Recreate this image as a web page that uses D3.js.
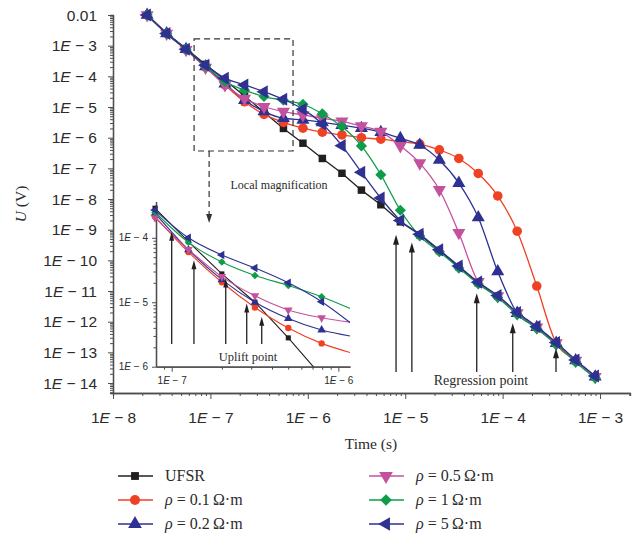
<!DOCTYPE html>
<html>
<head>
<meta charset="utf-8">
<script src="https://cdn.jsdelivr.net/npm/d3@7"></script>
<style>
body { margin: 0; background: #fff; }
svg { font-family: "Liberation Serif", "DejaVu Serif", serif; }
</style>
</head>
<body>
<script>
// sample times (s)
var times = [2.24e-8, 3.55e-8, 5.62e-8, 8.91e-8, 1.41e-7, 2.24e-7, 3.55e-7, 5.62e-7, 8.91e-7, 1.41e-6, 2.24e-6, 3.55e-6,
             5.62e-6, 8.91e-6, 1.41e-5, 2.24e-5, 3.55e-5, 5.62e-5, 8.91e-5, 1.41e-4, 2.24e-4, 3.55e-4, 5.62e-4, 8.91e-4];

// U (V) per series
var ufsr  = [1.0e-2, 2.6e-3, 8.1e-4, 2.45e-4, 7.6e-5, 2.3e-5, 6.8e-6, 2.0e-6, 6.6e-7, 2.1e-7, 6.9e-8, 1.95e-8,
             6.5e-9, 1.8e-9, 6.8e-10, 2.1e-10, 6.2e-11, 1.85e-11, 6.9e-12, 1.9e-12, 6.6e-13, 2.0e-13, 5.4e-14, 1.6e-14];
var rho01 = [1.0e-2, 2.5e-3, 7.4e-4, 2.0e-4, 5.25e-5, 1.48e-5, 5.75e-6, 3.16e-6, 2.04e-6, 1.51e-6, 1.23e-6, 1.0e-6,
             8.9e-7, 7.4e-7, 6.2e-7, 4.0e-7, 2.1e-7, 6.8e-8, 1.26e-8, 8.9e-10, 1.45e-11, 2.0e-13, 5.4e-14, 1.6e-14];
var rho02 = [1.0e-2, 2.5e-3, 7.6e-4, 2.1e-4, 5.75e-5, 1.66e-5, 7.1e-6, 4.3e-6, 3.8e-6, 3.16e-6, 2.57e-6, 2.04e-6,
             1.51e-6, 9.5e-7, 5.75e-7, 1.86e-7, 3.3e-8, 2.5e-9, 4.3e-11, 1.9e-12, 6.6e-13, 2.0e-13, 5.4e-14, 1.6e-14];
var rho05 = [1.0e-2, 2.5e-3, 7.4e-4, 1.95e-4, 5.25e-5, 1.9e-5, 1.02e-5, 7.1e-6, 5.5e-6, 4.3e-6, 3.4e-6, 2.4e-6,
             1.58e-6, 5.4e-7, 1.48e-7, 2.0e-8, 7.9e-10, 2.0e-11, 6.9e-12, 1.9e-12, 6.6e-13, 2.0e-13, 5.4e-14, 1.6e-14];
var rho1  = [1.0e-2, 2.5e-3, 7.6e-4, 2.2e-4, 6.8e-5, 3.55e-5, 2.2e-5, 1.66e-5, 1.23e-5, 6.0e-6, 2.3e-6, 5.4e-7,
             6.2e-8, 4.3e-9, 6.2e-10, 1.9e-10, 5.6e-11, 1.7e-11, 6.2e-12, 1.7e-12, 5.9e-13, 1.78e-13, 4.8e-14, 1.45e-14];
var rho5  = [1.0e-2, 2.5e-3, 7.6e-4, 2.3e-4, 8.7e-5, 5.25e-5, 3.16e-5, 1.78e-5, 8.5e-6, 2.8e-6, 5.5e-7, 7.4e-8,
             1.07e-8, 2.0e-9, 7.1e-10, 2.2e-10, 6.5e-11, 1.95e-11, 7.1e-12, 2.0e-12, 6.9e-13, 2.1e-13, 5.6e-14, 1.7e-14];

// inset (local magnification) readings
var insetTimes = [7.94e-8, 1.26e-7, 2.0e-7, 3.16e-7, 5.01e-7, 7.94e-7, 1.26e-6];
var insetUfsr  = [2.88e-4, 8.7e-5, 2.75e-5, 1.0e-5, 2.8e-6, 7.1e-7, 2.0e-7];
var insetRho01 = [2.14e-4, 6.0e-5, 2.04e-5, 8.3e-6, 3.98e-6, 2.3e-6, 1.58e-6];
var insetRho02 = [2.4e-4, 6.5e-5, 2.24e-5, 1.0e-5, 5.6e-6, 3.7e-6, 2.9e-6];
var insetRho05 = [2.04e-4, 6.6e-5, 2.5e-5, 1.26e-5, 7.6e-6, 5.75e-6, 4.8e-6];
var insetRho1  = [2.5e-4, 8.5e-5, 4.2e-5, 2.6e-5, 1.82e-5, 1.22e-5, 7.4e-6];
var insetRho5  = [2.7e-4, 1.0e-4, 5.4e-5, 3.4e-5, 2.0e-5, 1.02e-5, 4.2e-6];

// arrows
var regressT   = [8.05e-6, 1.17e-5, 5.42e-5, 1.27e-4, 3.53e-4];
var regressU   = [6.8e-10, 3.8e-10, 8.5e-12, 8.9e-13, 1.35e-13];
var regressBase = 2.3e-14;
var upliftT    = [1.0e-7, 1.36e-7, 2.11e-7, 2.82e-7, 3.47e-7];
var upliftU    = [1.24e-4, 4.5e-5, 2.34e-5, 9.6e-6, 5.96e-6];
var upliftBase = 2.24e-6;

// tick values
var yMajor = [1e-2, 1e-3, 1e-4, 1e-5, 1e-6, 1e-7, 1e-8, 1e-9, 1e-10, 1e-11, 1e-12, 1e-13, 1e-14];
var xMajor = [1e-8, 1e-7, 1e-6, 1e-5, 1e-4, 1e-3];
var insetXMajor = [1e-7, 1e-6];
var insetYMajor = [1e-4, 1e-5, 1e-6];

var seriesNames = ['UFSR', '0.1', '0.2', '0.5', '1', '5'];
var seriesColors = ['#231f20', '#ef4123', '#2e3192', '#c4519d', '#0e9c4a', '#2e3192'];

var series = [
    {name: seriesNames[0], color: seriesColors[0], sym: d3.symbolSquare, rot: 0, size: 56, isize: 26, vals: ufsr, ivals: insetUfsr, curve: d3.curveLinear},
    {name: seriesNames[1], color: seriesColors[1], sym: d3.symbolCircle, rot: 0, size: 72, isize: 32, vals: rho01, ivals: insetRho01, curve: d3.curveMonotoneX},
    {name: seriesNames[2], color: seriesColors[2], sym: d3.symbolTriangle, rot: 0, size: 74, isize: 32, vals: rho02, ivals: insetRho02, curve: d3.curveMonotoneX},
    {name: seriesNames[3], color: seriesColors[3], sym: d3.symbolTriangle, rot: 180, size: 74, isize: 32, vals: rho05, ivals: insetRho05, curve: d3.curveMonotoneX},
    {name: seriesNames[4], color: seriesColors[4], sym: d3.symbolSquare, rot: 45, size: 62, isize: 28, vals: rho1, ivals: insetRho1, curve: d3.curveMonotoneX},
    {name: seriesNames[5], color: seriesColors[5], sym: d3.symbolTriangle, rot: -90, size: 74, isize: 32, vals: rho5, ivals: insetRho5, curve: d3.curveMonotoneX}
];

var axisColor = '#4d4d4d', textColor = '#2b2b2b';

var svg = d3.select('body').append('svg')
    .attr('width', 637)
    .attr('height', 534);

//scales
var x = d3.scaleLog().domain([1e-8, 2.03e-3]).range([113, 630]);
var y = d3.scaleLog().domain([4.73e-15, 1e-2]).range([393, 15]);
var ix = d3.scaleLog().domain([8.05e-8, 1.175e-6]).range([156, 350]);
var iy = d3.scaleLog().domain([1e-6, 3.63e-4]).range([366.7, 201.7]);

function minorsFor(scale) {
    var dom = scale.domain(), out = [];
    var lo = Math.floor(Math.log10(dom[0])), hi = Math.ceil(Math.log10(dom[1]));
    for (var e = lo; e <= hi; e++) {
        for (var m = 2; m <= 9; m++) {
            var v = m * Math.pow(10, e);
            if (v >= dom[0] && v <= dom[1]) out.push(v);
        }
    }
    return out;
}

function labelTicks(g, small) {
    g.selectAll('.tick text').each(function(d) {
        var t = d3.select(this);
        t.text(null);
        var e = Math.round(Math.log10(d));
        if (e === -2 && !small) { t.text('0.01'); return; }
        t.append('tspan').text('1');
        t.append('tspan').style('font-style', 'italic').text('E');
        t.append('tspan').text(' \u2212 ' + (-e));
    });
}

function styleAxis(g) {
    g.select('.domain').attr('stroke', axisColor).attr('stroke-width', 1.3);
    g.selectAll('.tick line').attr('stroke', axisColor).attr('stroke-width', 1);
    g.selectAll('.tick text').attr('fill', textColor);
}

//main axes: minor ticks first
svg.append('g').attr('transform', 'translate(0,393)')
    .call(d3.axisBottom(x).tickValues(minorsFor(x)).tickSize(3).tickFormat(''))
    .call(styleAxis);
svg.append('g').attr('transform', 'translate(113,0)')
    .call(d3.axisLeft(y).tickValues(minorsFor(y)).tickSize(3).tickFormat(''))
    .call(styleAxis);

var gx = svg.append('g').attr('transform', 'translate(0,393)')
    .call(d3.axisBottom(x).tickValues(xMajor).tickSize(6).tickPadding(13).tickSizeOuter(0))
    .style('font-size', '15.5px');
labelTicks(gx, false);
styleAxis(gx);

var gy = svg.append('g').attr('transform', 'translate(113,0)')
    .call(d3.axisLeft(y).tickValues(yMajor).tickSize(5).tickPadding(11).tickSizeOuter(0))
    .style('font-size', '15.5px');
labelTicks(gy, false);
styleAxis(gy);
gy.selectAll('.tick text').attr('dy', '0.34em');

//axis titles
var yt = svg.append('text')
    .attr('transform', 'translate(26,204) rotate(-90)')
    .attr('text-anchor', 'middle')
    .attr('fill', textColor)
    .style('font-size', '15.5px');
yt.append('tspan').style('font-style', 'italic').text('U');
yt.append('tspan').text(' (V)');

svg.append('text')
    .attr('x', 371).attr('y', 449)
    .attr('text-anchor', 'middle')
    .attr('fill', textColor)
    .style('font-size', '15.5px')
    .text('Time (s)');

function symbolPath(s, size) {
    return d3.symbol().type(s.sym).size(size)();
}

//main curves
var plot = svg.append('g');
series.forEach(function(s) {
    var pts = times.map(function(t, i) { return [t, s.vals[i]]; });
    var line = d3.line().x(function(d) { return x(d[0]); }).y(function(d) { return y(d[1]); }).curve(s.curve);
    plot.append('path').datum(pts)
        .attr('d', line)
        .attr('fill', 'none')
        .attr('stroke', s.color)
        .attr('stroke-width', 1.3);
    plot.selectAll(null).data(pts).enter().append('path')
        .attr('d', symbolPath(s, s.size))
        .attr('transform', function(d) { return 'translate(' + x(d[0]) + ',' + y(d[1]) + ') rotate(' + s.rot + ')'; })
        .attr('fill', s.color);
});

function arrow(g, px, yTip, yBase, headL, headW) {
    g.append('line')
        .attr('x1', px).attr('x2', px)
        .attr('y1', yBase).attr('y2', yTip + headL - 1)
        .attr('stroke', '#231f20').attr('stroke-width', 1.3);
    g.append('path')
        .attr('d', 'M' + px + ',' + yTip + 'L' + (px - headW / 2) + ',' + (yTip + headL) + 'L' + (px + headW / 2) + ',' + (yTip + headL) + 'Z')
        .attr('fill', '#231f20');
}

//regression arrows
var ga = svg.append('g');
regressT.forEach(function(t, i) {
    arrow(ga, x(t), y(regressU[i]), y(regressBase), 10, 6);
});
svg.append('text')
    .attr('x', 481).attr('y', 385)
    .attr('text-anchor', 'middle')
    .attr('fill', textColor)
    .style('font-size', '14px')
    .text('Regression point');

//dashed box + arrow
var boxT = [6.8e-8, 7.05e-7], boxU = [1.66e-3, 3.68e-7];
svg.append('rect')
    .attr('x', x(boxT[0])).attr('y', y(boxU[0]))
    .attr('width', x(boxT[1]) - x(boxT[0]))
    .attr('height', y(boxU[1]) - y(boxU[0]))
    .attr('fill', 'none')
    .attr('stroke', '#333')
    .attr('stroke-width', 1.2)
    .attr('stroke-dasharray', '6,4');
var dx = x(9.7e-8), dTip = iy(1.7e-4);
svg.append('line')
    .attr('x1', dx).attr('x2', dx)
    .attr('y1', y(boxU[1])).attr('y2', dTip - 8)
    .attr('stroke', '#333').attr('stroke-width', 1.2).attr('stroke-dasharray', '6,4');
svg.append('path')
    .attr('d', 'M' + dx + ',' + dTip + 'L' + (dx - 3) + ',' + (dTip - 9) + 'L' + (dx + 3) + ',' + (dTip - 9) + 'Z')
    .attr('fill', '#333');
svg.append('text')
    .attr('x', 279).attr('y', 189)
    .attr('text-anchor', 'middle')
    .attr('fill', textColor)
    .style('font-size', '12px')
    .text('Local magnification');

//inset
var inset = svg.append('g');
inset.append('clipPath').attr('id', 'iclip')
    .append('rect').attr('x', 156).attr('y', 201.7).attr('width', 194).attr('height', 165);

inset.append('g').attr('transform', 'translate(0,366.7)')
    .call(d3.axisBottom(ix).tickValues(minorsFor(ix)).tickSize(3).tickFormat('').tickSizeOuter(0))
    .call(styleAxis);
inset.append('g').attr('transform', 'translate(156,0)')
    .call(d3.axisLeft(iy).tickValues(minorsFor(iy)).tickSize(2.5).tickFormat('').tickSizeOuter(0))
    .call(styleAxis);
var igx = inset.append('g').attr('transform', 'translate(0,366.7)')
    .call(d3.axisBottom(ix).tickValues(insetXMajor).tickSize(5).tickPadding(5).tickSizeOuter(0))
    .style('font-size', '10px');
labelTicks(igx, true);
styleAxis(igx);
var igy = inset.append('g').attr('transform', 'translate(156,0)')
    .call(d3.axisLeft(iy).tickValues(insetYMajor).tickSize(4).tickPadding(4).tickSizeOuter(0))
    .style('font-size', '10px');
labelTicks(igy, true);
styleAxis(igy);

var iplot = inset.append('g');
series.forEach(function(s) {
    var pts = insetTimes.map(function(t, i) { return [t, s.ivals[i]]; });
    var line = d3.line().x(function(d) { return ix(d[0]); }).y(function(d) { return iy(d[1]); }).curve(s.curve);
    iplot.append('path').datum(pts)
        .attr('clip-path', 'url(#iclip)')
        .attr('d', line)
        .attr('fill', 'none')
        .attr('stroke', s.color)
        .attr('stroke-width', 1.1);
    var vis = pts.filter(function(d) { return ix(d[0]) <= 350 && iy(d[1]) <= 366.7; });
    iplot.selectAll(null).data(vis).enter().append('path')
        .attr('d', symbolPath(s, s.isize))
        .attr('transform', function(d) { return 'translate(' + ix(d[0]) + ',' + iy(d[1]) + ') rotate(' + s.rot + ')'; })
        .attr('fill', s.color);
});

upliftT.forEach(function(t, i) {
    arrow(inset, ix(t), iy(upliftU[i]), iy(upliftBase), 9, 5);
});
inset.append('text')
    .attr('x', 248).attr('y', 361)
    .attr('text-anchor', 'middle')
    .attr('fill', textColor)
    .style('font-size', '12.5px')
    .text('Uplift point');

//legend
var legend = svg.append('g').style('font-size', '16px');
series.forEach(function(s, i) {
    var col = Math.floor(i / 3), row = i % 3;
    var lx = col === 0 ? 118 : 369, ly = 476 + row * 24;
    var g = legend.append('g').attr('transform', 'translate(' + lx + ',' + ly + ')');
    g.append('line').attr('x1', 0).attr('x2', 35).attr('y1', 0).attr('y2', 0)
        .attr('stroke', s.color).attr('stroke-width', 1.3);
    g.append('path').attr('d', symbolPath(s, s.size * 1.1))
        .attr('transform', 'translate(17,0) rotate(' + s.rot + ')')
        .attr('fill', s.color);
    var t = g.append('text').attr('x', 47).attr('y', 5).attr('fill', textColor);
    if (s.name === 'UFSR') {
        t.text('UFSR');
    } else {
        t.append('tspan').style('font-style', 'italic').text('\u03c1');
        t.append('tspan').text(' = ' + s.name + '\u2009\u03a9\u00b7m');
    }
});
</script>
</body>
</html>
